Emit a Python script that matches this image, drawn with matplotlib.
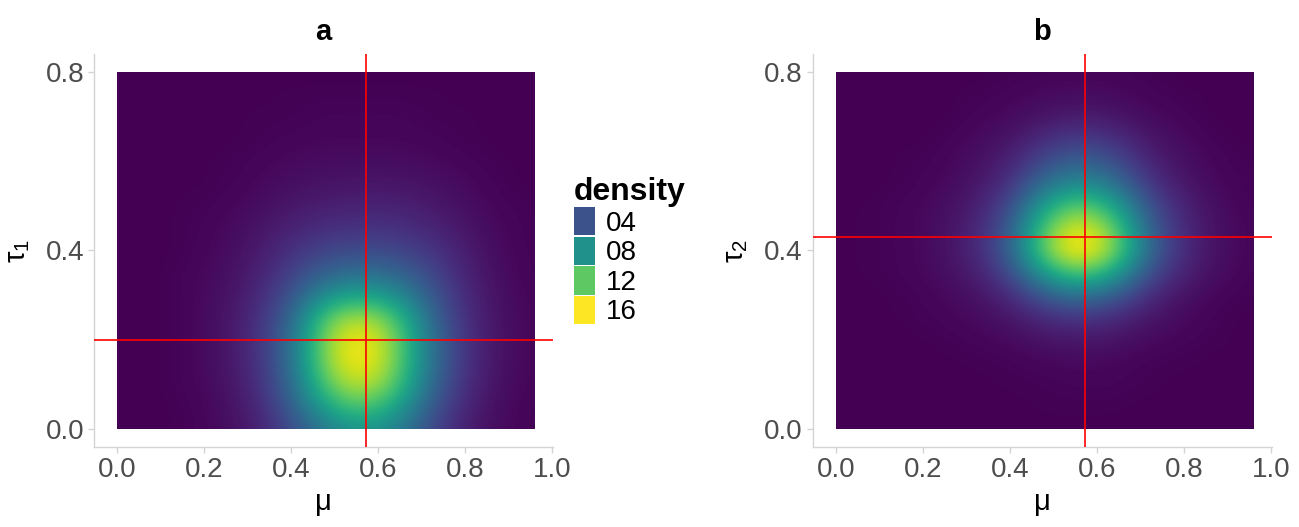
import numpy as np
import matplotlib
matplotlib.use("Agg")
from matplotlib import pyplot as plt
from matplotlib.patches import Patch, Rectangle
from matplotlib.colors import Normalize

plt.rcParams['font.family'] = ['Liberation Sans', 'DejaVu Sans']
plt.rcParams['mathtext.fontset'] = 'custom'
plt.rcParams['mathtext.rm'] = 'Liberation Sans'

## grid of the density surface ##
mu_grid = [0.00, 0.08, 0.16, 0.24, 0.32, 0.40, 0.48, 0.56, 0.64, 0.72, 0.80, 0.88, 0.96]
tau_grid = [0.00, 0.05, 0.10, 0.15, 0.20, 0.25, 0.30, 0.35, 0.40,
            0.45, 0.50, 0.55, 0.60, 0.65, 0.70, 0.75, 0.80]

# panel a: mu vs tau1, rows go from tau = 0 upward
dens_a = [
    [0, 0, 0.1, 0.4, 1.2, 3.5, 6.5, 8.5, 7.0, 3.5, 1.2, 0.4, 0.1],
    [0, 0, 0.1, 0.5, 1.5, 4.5, 9.5, 12.0, 9.5, 4.5, 1.6, 0.5, 0.1],
    [0, 0, 0.2, 0.6, 1.8, 5.2, 12.0, 15.0, 12.0, 5.5, 2.0, 0.6, 0.2],
    [0, 0, 0.2, 0.7, 2.0, 5.6, 13.5, 16.5, 13.0, 6.0, 2.2, 0.7, 0.2],
    [0, 0, 0.2, 0.7, 2.0, 5.6, 13.5, 16.5, 13.0, 6.0, 2.2, 0.7, 0.2],
    [0, 0, 0.2, 0.7, 1.9, 5.0, 12.0, 14.5, 11.5, 5.5, 2.0, 0.7, 0.2],
    [0, 0, 0.2, 0.6, 1.6, 4.0, 8.0, 9.5, 8.0, 4.5, 1.8, 0.6, 0.2],
    [0, 0, 0.2, 0.5, 1.3, 3.0, 5.0, 5.8, 5.2, 3.5, 1.5, 0.5, 0.1],
    [0, 0, 0.1, 0.4, 1.0, 2.2, 3.3, 3.6, 3.4, 2.5, 1.2, 0.4, 0.1],
    [0, 0, 0.1, 0.3, 0.8, 1.5, 2.1, 2.3, 2.2, 1.7, 0.9, 0.3, 0.1],
    [0, 0, 0.1, 0.2, 0.5, 1.0, 1.3, 1.5, 1.5, 1.1, 0.6, 0.2, 0.1],
    [0, 0, 0, 0.1, 0.3, 0.6, 0.8, 0.9, 0.9, 0.7, 0.4, 0.1, 0],
    [0, 0, 0, 0.1, 0.2, 0.4, 0.5, 0.5, 0.5, 0.4, 0.2, 0.1, 0],
    [0, 0, 0, 0, 0.1, 0.2, 0.3, 0.3, 0.3, 0.2, 0.1, 0, 0],
    [0, 0, 0, 0, 0.1, 0.1, 0.2, 0.2, 0.2, 0.1, 0.1, 0, 0],
    [0, 0, 0, 0, 0, 0.1, 0.1, 0.1, 0.1, 0.1, 0, 0, 0],
    [0, 0, 0, 0, 0, 0, 0, 0, 0, 0, 0, 0, 0],
]

# panel b: mu vs tau2
dens_b = [
    [0, 0, 0, 0, 0, 0, 0, 0, 0, 0, 0, 0, 0],
    [0, 0, 0, 0, 0, 0, 0.1, 0.1, 0.1, 0, 0, 0, 0],
    [0, 0, 0, 0, 0, 0.1, 0.1, 0.2, 0.2, 0.1, 0, 0, 0],
    [0, 0, 0, 0, 0.1, 0.1, 0.3, 0.4, 0.3, 0.1, 0.1, 0, 0],
    [0, 0, 0, 0.1, 0.2, 0.4, 0.8, 1.0, 0.8, 0.4, 0.2, 0.1, 0],
    [0, 0, 0.1, 0.2, 0.4, 0.9, 1.9, 2.5, 1.9, 0.9, 0.4, 0.1, 0],
    [0, 0, 0.1, 0.3, 0.7, 1.8, 4.5, 6.2, 4.7, 1.9, 0.7, 0.2, 0.1],
    [0, 0.1, 0.2, 0.5, 1.2, 3.4, 9.0, 12.5, 9.4, 3.7, 1.4, 0.5, 0.1],
    [0, 0.1, 0.2, 0.6, 1.6, 4.7, 13.0, 17.0, 13.5, 5.2, 1.8, 0.6, 0.2],
    [0, 0.1, 0.2, 0.6, 1.5, 4.3, 12.0, 16.0, 12.5, 4.8, 1.7, 0.6, 0.2],
    [0, 0.1, 0.2, 0.5, 1.2, 3.4, 9.2, 12.5, 9.5, 3.8, 1.4, 0.5, 0.1],
    [0, 0, 0.1, 0.3, 0.8, 2.2, 5.8, 7.9, 6.0, 2.4, 0.9, 0.3, 0.1],
    [0, 0, 0.1, 0.2, 0.6, 1.4, 3.6, 5.0, 3.8, 1.5, 0.6, 0.2, 0.1],
    [0, 0, 0, 0.1, 0.4, 0.8, 2.0, 2.8, 2.1, 0.9, 0.4, 0.1, 0],
    [0, 0, 0, 0, 0.2, 0.4, 0.8, 1.2, 0.9, 0.4, 0.2, 0, 0],
    [0, 0, 0, 0, 0.1, 0.2, 0.4, 0.5, 0.4, 0.2, 0.1, 0, 0],
    [0, 0, 0, 0, 0, 0.1, 0.1, 0.2, 0.2, 0.1, 0, 0, 0],
]

# reference lines (true values)
mu_true = 0.5725
tau1_true = 0.20
tau2_true = 0.43

legend_vals = [4, 8, 12, 16]
legend_labels = ['04', '08', '12', '16']

titles = ['a', 'b']
ylabels = [r'$\mathregular{τ_1}$', r'$\mathregular{τ_2}$']

cmap = plt.get_cmap('viridis')
norm = Normalize(vmin=0, vmax=16)

W, H = 1299, 527
fig = plt.figure(figsize=(W / 100, H / 100), dpi=100)

axes_pos = [
    [94 / W, 1 - 447 / H, 459 / W, 393 / H],
    [812.7 / W, 1 - 447 / H, 459.3 / W, 393 / H],
]

panels = [(dens_a, tau1_true), (dens_b, tau2_true)]

grey_line = '#D4D4D4'
tick_col = '#4D4D4D'

for k, (dens, tau_true) in enumerate(panels):
    ax = fig.add_axes(axes_pos[k])
    z = np.array(dens)
    dx = mu_grid[1] - mu_grid[0]
    dy = tau_grid[1] - tau_grid[0]
    ext = (mu_grid[0] - dx / 2, mu_grid[-1] + dx / 2,
           tau_grid[0] - dy / 2, tau_grid[-1] + dy / 2)
    im = ax.imshow(z, origin='lower', extent=ext, cmap=cmap, norm=norm,
                   interpolation='bicubic', aspect='auto', zorder=1)
    clip = Rectangle((mu_grid[0], tau_grid[0]), mu_grid[-1] - mu_grid[0],
                     tau_grid[-1] - tau_grid[0], transform=ax.transData,
                     facecolor='none', edgecolor='none')
    im.set_clip_path(clip)

    ax.axvline(mu_true, color='red', lw=1.2, zorder=3)
    ax.axhline(tau_true, color='red', lw=1.2, zorder=3)

    ax.set_xlim(-0.0536, 1.003)
    ax.set_ylim(-0.0403, 0.8395)
    ax.set_xticks([0.0, 0.2, 0.4, 0.6, 0.8, 1.0])
    ax.set_yticks([0.0, 0.4, 0.8])
    ax.set_xticklabels(['0.0', '0.2', '0.4', '0.6', '0.8', '1.0'])
    ax.set_yticklabels(['0.0', '0.4', '0.8'])

    for s in ['top', 'right']:
        ax.spines[s].set_visible(False)
    for s in ['left', 'bottom']:
        ax.spines[s].set_color(grey_line)
        ax.spines[s].set_linewidth(1.0)
    ax.tick_params(colors=grey_line, labelcolor=tick_col, labelsize=20,
                   length=4, width=1, pad=3)

    ax.set_title(titles[k], fontsize=21, fontweight='bold', pad=10)
    ax.set_xlabel('μ', fontsize=21, labelpad=4)
    ax.set_ylabel(ylabels[k], fontsize=21, labelpad=10)

handles = [Patch(facecolor=cmap(norm(v)), edgecolor='none') for v in legend_vals]
leg = fig.legend(handles, legend_labels, title='density', loc='upper left',
                 bbox_to_anchor=(574 / W, 1 - 177 / H), frameon=False,
                 fontsize=20, title_fontproperties={'weight': 'bold', 'size': 23},
                 handlelength=0.75, handleheight=1.2, handletextpad=0.4,
                 labelspacing=0.0, borderpad=0, borderaxespad=0,
                 alignment='left')

fig.savefig('out.png', dpi=100)
